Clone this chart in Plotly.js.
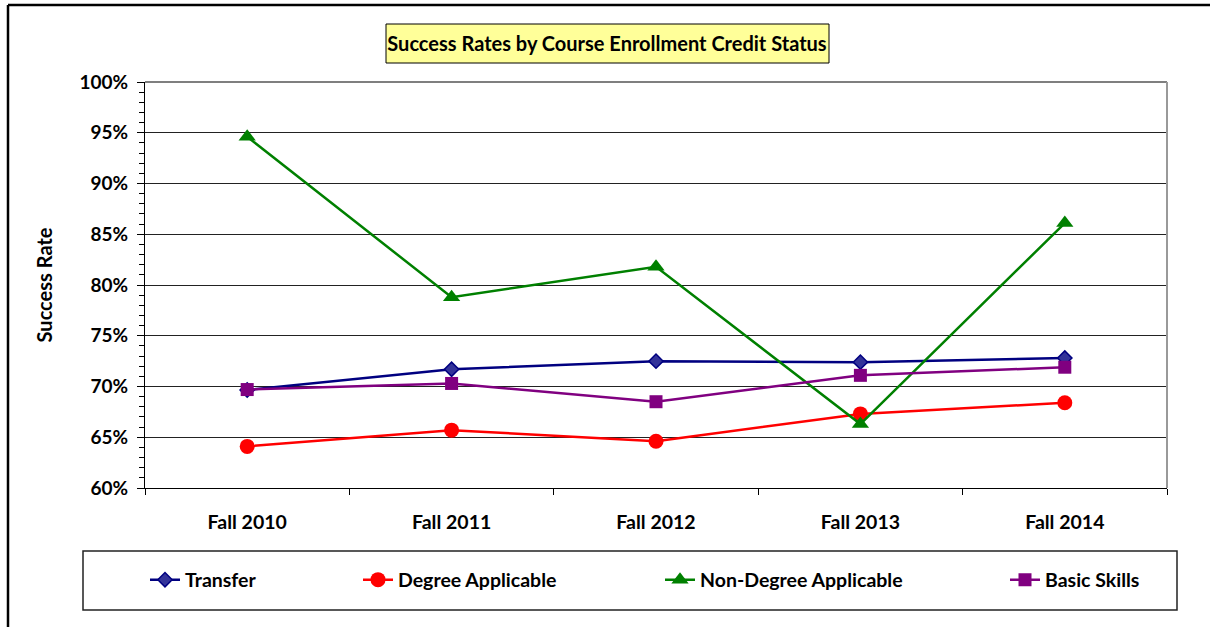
<!DOCTYPE html>
<html>
<head>
<meta charset="utf-8">
<script src="https://cdn.plot.ly/plotly-3.0.1.min.js"></script>
<style>html,body{margin:0;padding:0;background:#fff;}#chart{width:1210px;height:627px;}</style>
</head>
<body>
<div id="chart"></div>
<script>
// ---- data ----
const categories = ['Fall 2010', 'Fall 2011', 'Fall 2012', 'Fall 2013', 'Fall 2014'];
const transfer = [0.6965, 0.717, 0.725, 0.724, 0.728];
const degreeApplicable = [0.641, 0.657, 0.646, 0.673, 0.684];
const nonDegreeApplicable = [0.946, 0.788, 0.818, 0.663, 0.861];
const basicSkills = [0.697, 0.703, 0.685, 0.711, 0.719];
const seriesNames = ['Transfer', 'Degree Applicable', 'Non-Degree Applicable', 'Basic Skills'];
const yTickVals = [0.60, 0.65, 0.70, 0.75, 0.80, 0.85, 0.90, 0.95, 1.00];
const chartTitle = 'Success Rates by Course Enrollment Credit Status';
const yTitle = 'Success Rate';

const FONT = 'Lato, "Open Sans", sans-serif';

const traces = [
  {x: categories, y: transfer, name: seriesNames[0], type: 'scatter', mode: 'lines+markers',
   line: {color: '#000080', width: 2.5},
   marker: {symbol: 'diamond', size: 11, color: '#333399', line: {color: '#000080', width: 1.5}},
   legend: 'legend'},
  {x: categories, y: degreeApplicable, name: seriesNames[1], type: 'scatter', mode: 'lines+markers',
   line: {color: '#FF0000', width: 2.5},
   marker: {symbol: 'circle', size: 15, color: '#FF0000'},
   legend: 'legend2'},
  {x: categories, y: nonDegreeApplicable, name: seriesNames[2], type: 'scatter', mode: 'lines+markers',
   line: {color: '#008000', width: 2.5},
   marker: {symbol: 'triangle-up', size: 15, color: '#008000'},
   legend: 'legend3'},
  {x: categories, y: basicSkills, name: seriesNames[3], type: 'scatter', mode: 'lines+markers',
   line: {color: '#800080', width: 2.5},
   marker: {symbol: 'square', size: 13, color: '#800080'},
   legend: 'legend4'}
];

// pixel helpers for layout geometry (plot area 145..1167 x 82..488)
const L = 145, R = 1167, T = 82, B = 488;
const px = v => (v - L) / (R - L);
const py = v => (B - v) / (B - T);

const legFont = {family: FONT, size: 19.5, weight: 'bold', color: '#000'};
function leg(textX) {
  return {orientation: 'h', x: px(textX - 40), xanchor: 'left', y: py(580), yanchor: 'middle',
          bgcolor: 'rgba(0,0,0,0)', borderwidth: 0, font: legFont};
}

const layout = {
  width: 1210, height: 627, autosize: false,
  margin: {l: L, r: 1210 - R, t: T, b: 627 - B, pad: 0},
  paper_bgcolor: '#fff', plot_bgcolor: '#fff',
  showlegend: true,
  title: {text: chartTitle, font: {family: FONT, size: 20, weight: 'bold', color: '#000'},
          x: 607 / 1210, xanchor: 'center', xref: 'container', y: 1 - 44 / 627, yanchor: 'middle', yref: 'container'},
  xaxis: {type: 'category', range: [-0.5, 4.5], tickson: 'boundaries', ticks: 'outside', ticklen: 6,
          tickcolor: '#000', showline: true, linecolor: '#000', linewidth: 1, showgrid: false,
          tickfont: {family: FONT, size: 19.5, weight: 'bold', color: '#000'}, ticklabelstandoff: 17,
          fixedrange: true},
  yaxis: {range: [0.6, 1.0], tickvals: yTickVals, tickformat: '.0%', ticks: 'outside', ticklen: 7,
          tickcolor: '#000', showline: true, linecolor: '#000', linewidth: 1,
          showgrid: true, gridcolor: '#222', gridwidth: 1, zeroline: false,
          minor: {dtick: 0.01, tick0: 0.6, ticks: 'outside', ticklen: 5, tickcolor: '#000', showgrid: false},
          tickfont: {family: FONT, size: 19, weight: 'bold', color: '#000'}, ticklabelstandoff: 5,
          title: {text: yTitle, font: {family: FONT, size: 20, weight: 'bold', color: '#000'}, standoff: 21},
          fixedrange: true},
  legend: leg(185), legend2: leg(398), legend3: leg(700), legend4: leg(1045),
  shapes: [
    // outer chart border (top & left)
    {type: 'line', xref: 'paper', yref: 'paper', x0: px(8), x1: px(1215), y0: py(5), y1: py(5), line: {color: '#000', width: 2.5}},
    {type: 'line', xref: 'paper', yref: 'paper', x0: px(8), x1: px(8), y0: py(5), y1: py(635), line: {color: '#000', width: 2.5}},
    // plot area border top/right
    {type: 'line', xref: 'paper', yref: 'paper', x0: 0, x1: 1, y0: 1, y1: 1, line: {color: '#555', width: 1.5}},
    {type: 'line', xref: 'paper', yref: 'paper', x0: 1, x1: 1, y0: 0, y1: 1, line: {color: '#999', width: 2}},
    // title box
    {type: 'rect', xref: 'paper', yref: 'paper', x0: px(386), x1: px(829), y0: py(63), y1: py(24),
     fillcolor: '#FFFF99', line: {color: '#000', width: 1}, layer: 'below'},
    // legend box
    {type: 'rect', xref: 'paper', yref: 'paper', x0: px(83), x1: px(1177), y0: py(610), y1: py(551),
     fillcolor: 'rgba(0,0,0,0)', line: {color: '#222', width: 1.5}}
  ]
};

Plotly.newPlot('chart', traces, layout, {displayModeBar: false, staticPlot: true});
</script>
</body>
</html>
